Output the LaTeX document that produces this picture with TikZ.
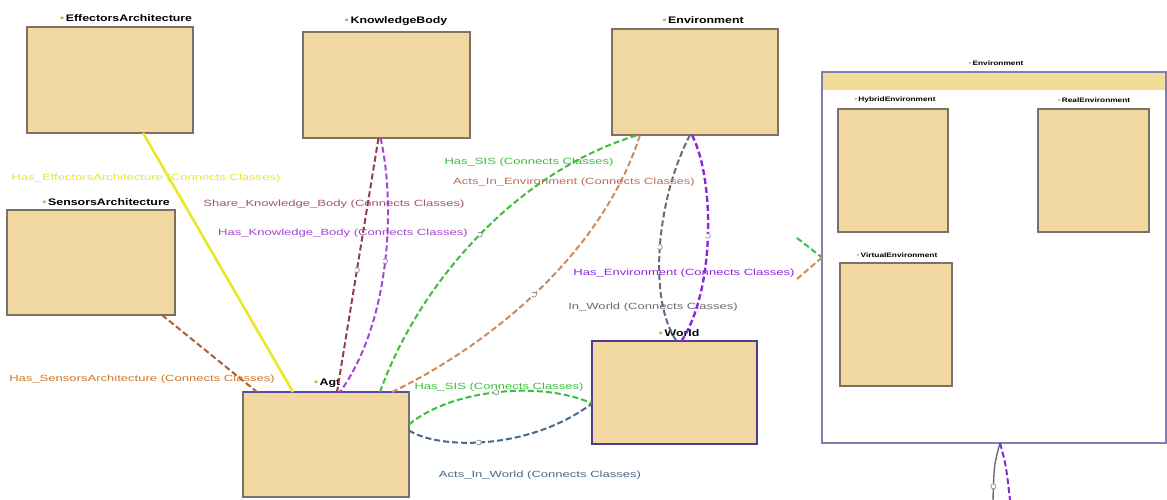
\documentclass[tikz,border=0pt]{standalone}
\usepackage{fontspec}
\usetikzlibrary{calc}
\newfontfamily\cfont[FakeStretch=1.45]{Liberation Sans}
\newfontfamily\bfont[FakeStretch=1.3]{Liberation Sans}
\definecolor{boxfill}{RGB}{241,216,161}
\definecolor{boxline}{RGB}{125,112,100}
\definecolor{contline}{RGB}{130,125,180}
\definecolor{headfill}{RGB}{240,222,150}
\definecolor{bulc}{RGB}{200,185,90}
\definecolor{cyel}{RGB}{232,232,40}
\definecolor{csens}{RGB}{175,95,55}
\definecolor{csenslbl}{RGB}{205,120,45}
\definecolor{cshare}{RGB}{150,60,80}
\definecolor{csharelbl}{RGB}{165,80,130}
\definecolor{chkb}{RGB}{165,70,210}
\definecolor{cgreen}{RGB}{60,190,60}
\definecolor{corange}{RGB}{205,140,90}
\definecolor{corangelbl}{RGB}{190,110,80}
\definecolor{cgray}{RGB}{105,105,120}
\definecolor{cenv}{RGB}{140,40,220}
\definecolor{cblue}{RGB}{70,105,140}
\definecolor{agtop}{RGB}{90,70,170}
\definecolor{worldline}{RGB}{80,60,140}
\newcommand{\bul}{{\color{bulc}\textbullet}\,}
\begin{document}
\begin{tikzpicture}[x=1pt,y=-1pt,
  cls/.style={draw=boxline, fill=boxfill, line width=1.5pt, inner sep=0pt, outer sep=0pt},
  clslbl/.style={font=\bfont\bfseries\fontsize{9.5}{10}\selectfont, inner sep=0pt, text=black},
  sublbl/.style={font=\bfont\bfseries\fontsize{6.4}{7}\selectfont, inner sep=0pt, text=black},
  elbl/.style={font=\cfont\fontsize{9}{10}\selectfont, inner sep=0pt},
  conn/.style={line width=2pt, dash pattern=on 6pt off 3pt},
  mk/.style={draw=gray, fill=white, circle, inner sep=0pt, minimum size=5pt, line width=0.6pt}]
\useasboundingbox[fill=white] (0,0) rectangle (1167,500);

% container
\node[draw=contline, fill=white, line width=1.8pt, minimum width=344pt, minimum height=371pt, inner sep=0pt, outer sep=0pt] (cont) at (994,257.5) {};
\fill[headfill] ($(cont.north west)+(1,1)$) rectangle ($(cont.north east)+(-1,18)$);
\node[sublbl] (contl) at (996,63) {\bul Environment};

% boxes
\node[cls, minimum width=166pt, minimum height=106pt] (eff) at (110,80) {};
\node[cls, minimum width=167pt, minimum height=106pt] (kb) at (386.5,85) {};
\node[cls, minimum width=166pt, minimum height=106pt] (env) at (695,82) {};
\node[cls, minimum width=168pt, minimum height=105pt] (sens) at (91,262.5) {};
\node[cls, minimum width=166pt, minimum height=105pt] (agt) at (326,444.5) {};
\node[cls, draw=worldline, minimum width=165pt, minimum height=103pt] (world) at (674.5,392.5) {};
\node[cls, minimum width=110pt, minimum height=123pt] (hyb) at (893,170.5) {};
\node[cls, minimum width=111pt, minimum height=123pt] (real) at (1093.5,170.5) {};
\node[cls, minimum width=112pt, minimum height=123pt] (virt) at (896,324.5) {};
\draw[agtop, line width=1.8pt] (agt.north west) -- (agt.north east);

% box labels
\node[clslbl] (effl) at (126,18) {\bul EffectorsArchitecture};
\node[clslbl] (kbl) at (396,21) {\bul KnowledgeBody};
\node[clslbl] (envl) at (703,20) {\bul Environment};
\node[clslbl] (sensl) at (106,202) {\bul SensorsArchitecture};
\node[clslbl] (agtl) at (327,383) {\bul Agt};
\node[clslbl] (worldl) at (679,333) {\bul World};
\node[sublbl] (hybl) at (895,100) {\bul HybridEnvironment};
\node[sublbl] (reall) at (1094,100) {\bul RealEnvironment};
\node[sublbl] (virtl) at (897,255) {\bul VirtualEnvironment};

% connectors
\draw[cyel, line width=2.6pt] ([xshift=33pt]eff.south) -- ([xshift=-33pt]agt.north);
\draw[conn, csens] ([xshift=71pt]sens.south) -- ([xshift=-69pt]agt.north);
\draw[conn, cshare] ([xshift=-8pt]kb.south) -- node[mk, pos=0.52] (m1) {} ([xshift=11pt]agt.north);
\draw[conn, chkb] ([xshift=-6pt]kb.south) .. controls (395,200) and (392,320) .. node[mk, pos=0.5] (m2) {} ([xshift=14pt]agt.north);
\draw[conn, cgreen] ([xshift=54pt]agt.north) .. controls (420,280) and (520,170) .. node[mk, pos=0.5] (m3) {} ([xshift=-57pt]env.south);
\draw[conn, corange] ([xshift=66pt]agt.north) .. controls (480,350) and (600,260) .. node[mk, pos=0.5] (m4) {} ([xshift=-55pt]env.south);
\draw[conn, cgray] ([xshift=-5pt]env.south) .. controls (656,200) and (648,300) .. node[mk, pos=0.5] (m5) {} ([xshift=2pt]world.north);
\draw[conn, cenv, line width=2.4pt] ([xshift=-3pt]env.south) .. controls (715,180) and (715,290) .. node[mk, pos=0.5] (m6) {} ([xshift=7pt]world.north);
\draw[conn, cgreen] ($(agt.east)+(0,-20)$) .. controls (450,390) and (540,380) .. node[mk, pos=0.5] (m7) {} ($(world.west)+(0,11)$);
\draw[conn, cblue] ($(agt.east)+(0,-14)$) .. controls (440,450) and (530,450) .. node[mk, pos=0.45] (m8) {} ($(world.west)+(0,11)$);

\coordinate (g1) at (797,238);
\coordinate (t1) at (797,279);
\draw[conn, cgreen] (g1) -- (cont.west);
\draw[conn, corange] (t1) -- (cont.west);
\coordinate (b1) at (993,500);
\coordinate (b2) at (1010,500);
\draw[cgray, line width=1.4pt] ($(cont.south)+(6,0)$) .. controls (994,465) .. node[mk, pos=0.85] (m9) {} (b1);
\draw[conn, cenv] ($(cont.south)+(6,0)$) .. controls (1006,465) .. (b2);

% connector labels
\node[elbl, text=cyel] (l1) at (146,178) {Has\_EffectorsArchitecture (Connects Classes)};
\node[elbl, text=csharelbl] (l2) at (334,204) {Share\_Knowledge\_Body (Connects Classes)};
\node[elbl, text=chkb] (l3) at (343,233) {Has\_Knowledge\_Body (Connects Classes)};
\node[elbl, text=cgreen] (l4) at (529,162) {Has\_SIS (Connects Classes)};
\node[elbl, text=corangelbl] (l5) at (574,182) {Acts\_In\_Environment (Connects Classes)};
\node[elbl, text=cenv] (l6) at (684,273) {Has\_Environment (Connects Classes)};
\node[elbl, text=cgray] (l7) at (653,307) {In\_World (Connects Classes)};
\node[elbl, text=csenslbl] (l8) at (142,379) {Has\_SensorsArchitecture (Connects Classes)};
\node[elbl, text=cgreen] (l9) at (499,387) {Has\_SIS (Connects Classes)};
\node[elbl, text=cblue] (l10) at (540,475) {Acts\_In\_World (Connects Classes)};
\end{tikzpicture}
\end{document}
